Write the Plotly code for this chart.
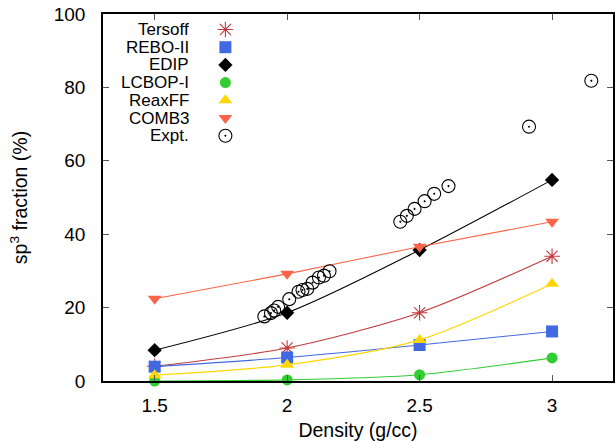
import plotly.graph_objects as go

# ---------------- data ----------------
density = [1.5, 2.0, 2.5, 3.0]
tersoff = [4.0, 9.0, 18.6, 34.0]
rebo2 = [3.9, 6.4, 9.8, 13.5]
edip = [8.4, 18.6, 35.7, 54.8]
lcbop1 = [0.0, 0.3, 1.7, 6.3]
reaxff = [1.6, 4.4, 11.2, 26.5]
comb3 = [22.4, 29.2, 36.6, 43.4]

expt_density = [1.914, 1.939, 1.951, 1.966, 2.008, 2.043, 2.058, 2.076, 2.096,
                2.120, 2.139, 2.160, 2.427, 2.452, 2.481, 2.519, 2.555, 2.609,
                2.913, 3.148]
expt_sp3 = [17.6, 18.5, 19.2, 20.2, 22.3, 24.3, 24.8, 25.1, 26.8,
            28.2, 28.7, 29.9, 43.4, 45.0, 46.9, 49.0, 51.0, 53.1,
            69.3, 81.8]

x_ticks = [1.5, 2, 2.5, 3]
x_tick_labels = ["1.5", "2", "2.5", "3"]
y_ticks = [0, 20, 40, 60, 80, 100]
y_tick_labels = ["0", "20", "40", "60", "80", "100"]

# ---------------- styles ----------------
FONT = "Liberation Sans, Arial, Helvetica, sans-serif"
series = [
    ("Tersoff", tersoff, "#c0393b", dict(symbol="asterisk-open", size=13, color="#c0393b",
                                         line=dict(color="#c0393b", width=1.1))),
    ("REBO-II", rebo2, "#4169e1", dict(symbol="square", size=12, color="#4169e1")),
    ("EDIP", edip, "#000000", dict(symbol="diamond", size=11, color="#000000")),
    ("LCBOP-I", lcbop1, "#32cd32", dict(symbol="circle", size=11, color="#32cd32")),
    ("ReaxFF", reaxff, "#ffd700", dict(symbol="triangle-up", size=12, color="#ffd700")),
    ("COMB3", comb3, "#ff6347", dict(symbol="triangle-down", size=12, color="#ff6347")),
]
expt_marker = dict(symbol="circle-dot", size=13, color="rgba(0,0,0,0)",
                   line=dict(color="black", width=1.1))

W, H = 615, 441
ML, MT, MB, MR = 103, 14, 60, 0
plot_h = H - MT - MB

fig = go.Figure()

for name, vals, col, mk in series:
    fig.add_trace(go.Scatter(x=density, y=vals, mode="lines+markers", name=name,
                             line=dict(color=col, width=1.1, shape="spline", smoothing=0.8),
                             marker=mk, showlegend=False, cliponaxis=False))

fig.add_trace(go.Scatter(x=expt_density, y=expt_sp3, mode="markers", name="Expt.",
                         marker=expt_marker, showlegend=False))

# ---------------- custom legend (text right-aligned, symbol on right) ----------------
legend_items = [(s[0], s[3]) for s in series] + [("Expt.", expt_marker)]
leg_sym_x = 0.240
leg_text_x = 0.172
leg_top_px = 29.5
leg_step_px = 17.7
for i, (name, mk) in enumerate(legend_items):
    py = leg_top_px + i * leg_step_px
    fy = (H - MB - py) / plot_h
    fig.add_trace(go.Scatter(x=[leg_sym_x], y=[fy], mode="markers", marker=mk,
                             xaxis="x2", yaxis="y2", showlegend=False, hoverinfo="skip"))
    fig.add_annotation(x=leg_text_x, y=fy, xref="x2", yref="y2", text=name,
                       showarrow=False, xanchor="right", yanchor="middle",
                       font=dict(family=FONT, size=17, color="black"))

axis_common = dict(showgrid=False, zeroline=False, ticks="inside", ticklen=6,
                   tickcolor="#555555", showline=True, linecolor="black", linewidth=1.5,
                   mirror="ticks",
                   tickfont=dict(family=FONT, size=19, color="black"))

fig.update_layout(
    width=W, height=H,
    margin=dict(l=ML, r=MR, t=MT, b=MB),
    paper_bgcolor="white", plot_bgcolor="white",
    showlegend=False,
    font=dict(family=FONT, color="black"),
    xaxis=dict(range=[1.305, 3.23], tickvals=x_ticks, ticktext=x_tick_labels,
               ticklabelstandoff=6,
               title=dict(text="Density (g/cc)", font=dict(family=FONT, size=19.5), standoff=9),
               **axis_common),
    yaxis=dict(range=[0, 100], tickvals=y_ticks, ticktext=y_tick_labels,
               ticklabelstandoff=12,
               title=dict(text="sp<sup>3</sup> fraction (%)", font=dict(family=FONT, size=19.5),
                          standoff=21),
               **axis_common),
    xaxis2=dict(range=[0, 1], overlaying="x", visible=False, fixedrange=True),
    yaxis2=dict(range=[0, 1], overlaying="y", visible=False, fixedrange=True),
)

fig.write_html("out.html")
